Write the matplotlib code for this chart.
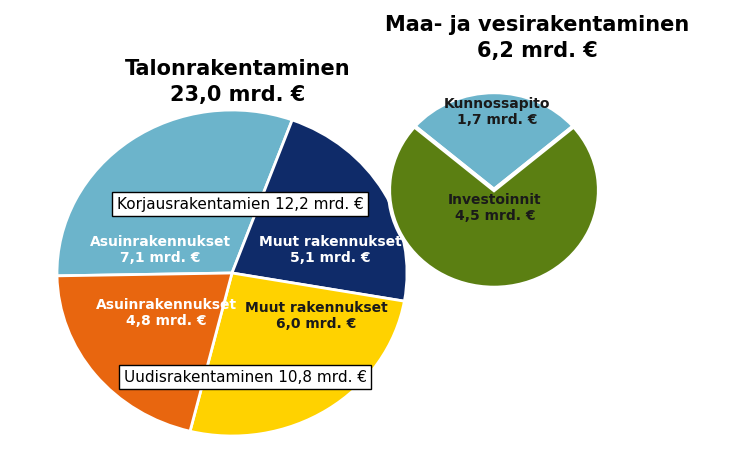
import matplotlib
matplotlib.use("Agg")
import matplotlib.pyplot as plt

left_labels = ["Asuinrakennukset\n7,1 mrd. €", "Muut rakennukset\n5,1 mrd. €",
               "Muut rakennukset\n6,0 mrd. €", "Asuinrakennukset\n4,8 mrd. €"]
left_values = [7.1, 5.1, 6.0, 4.8]
left_colors = ["#6CB4CB", "#0F2B69", "#FFD200", "#E8660F"]
left_text_colors = ["white", "white", "#1a1a1a", "white"]
left_label_pos = [(160, 250), (330, 250), (316, 316), (166, 313)]

right_labels = ["Kunnossapito\n1,7 mrd. €", "Investoinnit\n4,5 mrd. €"]
right_values = [1.7, 4.5]
right_colors = ["#6CB4CB", "#5B7F12"]
right_label_pos = [(497, 112), (495, 208)]

W, H = 746, 458
k = 175 / 163
fig = plt.figure(figsize=(W/100, H/100), dpi=100)
ax = fig.add_axes([0, 0, 1, 1])

def c(px, py):
    return (px, (H - py) * k)

ax.pie(left_values, colors=left_colors, startangle=181, counterclock=False,
       center=c(232, 273), radius=175, frame=True,
       wedgeprops=dict(edgecolor="white", linewidth=2))
ax.pie(right_values, colors=right_colors, startangle=90 + 1.7/6.2*180, counterclock=False,
       center=c(494, 190), radius=105, frame=True, explode=[0.09, 0],
       wedgeprops=dict(edgecolor="white", linewidth=3))
ax.set_aspect("auto")
ax.set_xlim(0, W)
ax.set_ylim(0, H * k)
ax.axis("off")

def T(px, py, s, **kw):
    ax.text(*c(px, py), s, ha="center", va="center", **kw)

for lab, col, pos in zip(left_labels, left_text_colors, left_label_pos):
    T(*pos, lab, color=col, fontsize=10, fontweight="bold")
for lab, pos in zip(right_labels, right_label_pos):
    T(*pos, lab, color="#1a1a1a", fontsize=10, fontweight="bold")

T(238, 82, "Talonrakentaminen\n23,0 mrd. €", fontsize=15, fontweight="bold", linespacing=1.4)
T(537, 38, "Maa- ja vesirakentaminen\n6,2 mrd. €", fontsize=15, fontweight="bold", linespacing=1.4)
box = dict(boxstyle="square,pad=0.3", facecolor="white", edgecolor="black", linewidth=1)
T(240, 204, "Korjausrakentamien 12,2 mrd. €", fontsize=11, bbox=box)
T(245, 377, "Uudisrakentaminen 10,8 mrd. €", fontsize=11, bbox=box)

fig.savefig("out.png", dpi=100)
